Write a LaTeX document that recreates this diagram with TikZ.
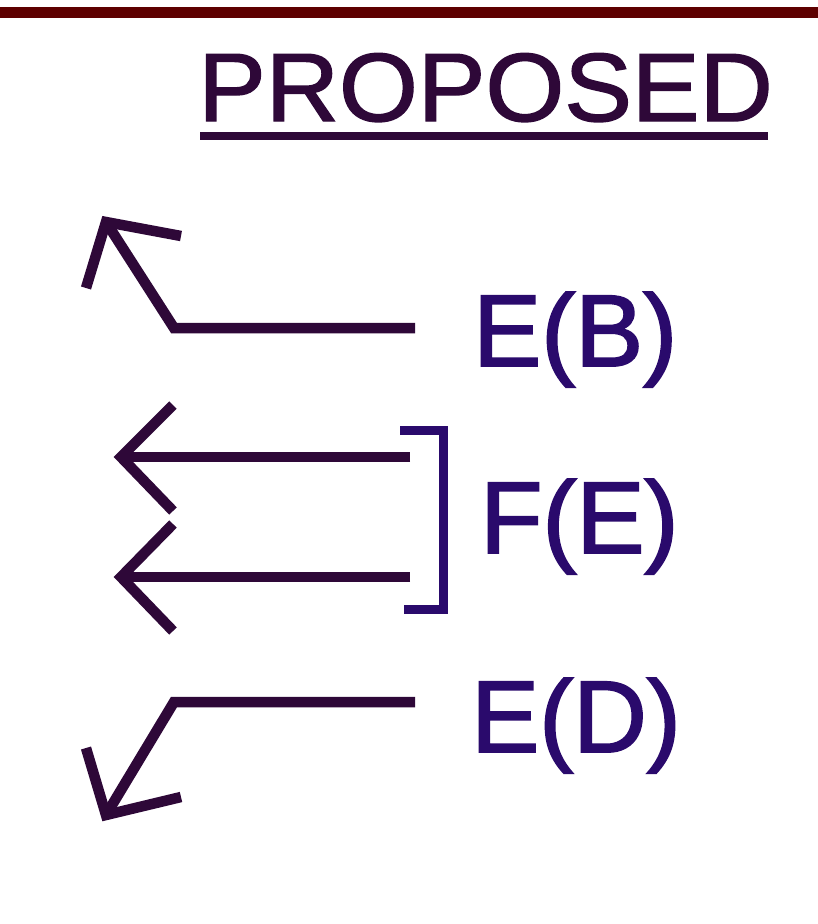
\documentclass[tikz,border=0pt]{standalone}
\usepackage{fontspec}
\setmainfont{Liberation Sans}
\newfontfamily\labelfont[FakeBold=1.8]{Liberation Sans}
\newfontfamily\titlefont[FakeBold=1.5]{Liberation Sans}
\definecolor{barred}{HTML}{5E0000}
\definecolor{inkpurple}{HTML}{2E0838}
\definecolor{labelblue}{HTML}{2A0A6C}
\tikzset{
  arrowline/.style={draw=inkpurple, line width=10.5pt, line join=miter},
  bracketline/.style={draw=labelblue, line width=9pt, line join=miter},
  label/.style={text=labelblue, inner sep=0pt, anchor=base west, font=\labelfont\fontsize{102}{110}\selectfont},
  title/.style={text=inkpurple, inner sep=0pt, anchor=base west, xscale=1.045, font=\titlefont\fontsize{97}{105}\selectfont}
}
\begin{document}
\begin{tikzpicture}[x=1pt,y=-1pt]
\useasboundingbox[fill=white] (0,0) rectangle (818,924);
% top bar
\fill[barred] (0,7) rectangle (818,18);
% title
\node[title] (ttl) at (198,121) {PROPOSED};
\fill[inkpurple] (200,132) rectangle (768,140);
% labels
\node[label] (eb) at (473,366) {E(B)};
\node[label] (fe) at (480,553) {F(E)};
\node[label] (ed) at (471,752) {E(D)};
% arrow E(B)
\coordinate (b0) at (415,328);
\coordinate (b1) at (174,328);
\coordinate (btip) at (106,222);
\coordinate (ba1) at (86,288);
\coordinate (ba2) at (181,236);
\draw[arrowline] (b0) -- (b1) -- (btip);
\draw[arrowline] (ba1) -- (btip) -- (ba2);
% arrows F(E)
\coordinate (f1s) at (410,457);
\coordinate (f1t) at (121,457);
\coordinate (f1a) at (173,405);
\coordinate (f1b) at (173,511);
\draw[arrowline] (f1s) -- (f1t);
\draw[arrowline] (f1a) -- (f1t) -- (f1b);
\coordinate (f2s) at (410,577);
\coordinate (f2t) at (121,577);
\coordinate (f2a) at (173,524);
\coordinate (f2b) at (173,631);
\draw[arrowline] (f2s) -- (f2t);
\draw[arrowline] (f2a) -- (f2t) -- (f2b);
% bracket
\coordinate (k0) at (400,430);
\coordinate (k1) at (443,430);
\coordinate (k2) at (443,609);
\coordinate (k3) at (404,609);
\draw[bracketline] (k0) -- (k1) -- (k2) -- (k3);
% arrow E(D)
\coordinate (d0) at (415,702);
\coordinate (d1) at (174,702);
\coordinate (dtip) at (106,815);
\coordinate (da1) at (86,748);
\coordinate (da2) at (181,797);
\draw[arrowline] (d0) -- (d1) -- (dtip);
\draw[arrowline] (da1) -- (dtip) -- (da2);
\end{tikzpicture}
\end{document}
